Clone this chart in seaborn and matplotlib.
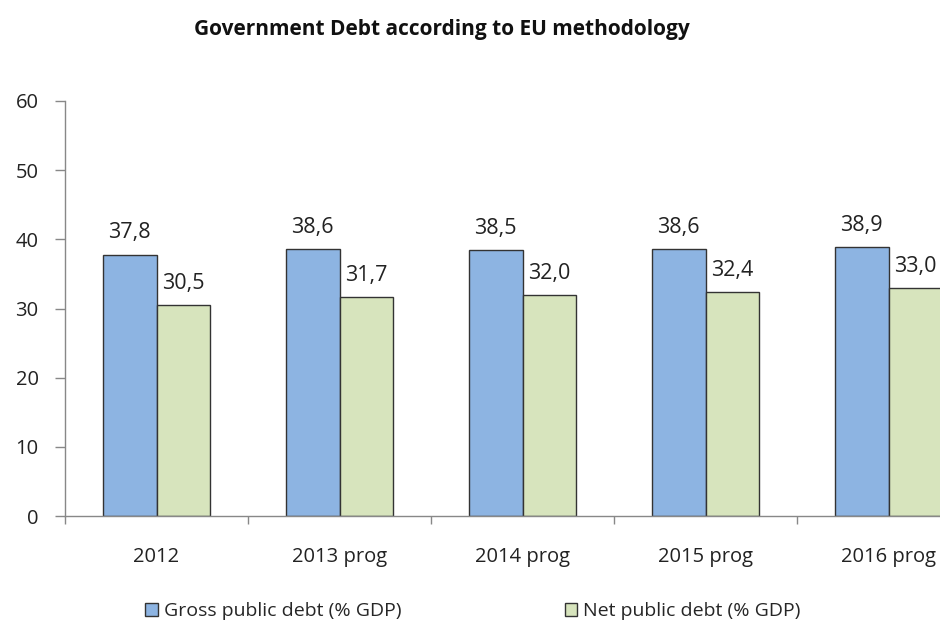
import numpy as np
import pandas as pd
import seaborn as sns
import matplotlib
matplotlib.use("Agg")
import matplotlib.pyplot as plt
from matplotlib.patches import Patch

sns.set_style("white")
plt.rcParams['font.family'] = ['Open Sans', 'DejaVu Sans']

# data
years = ["2012", "2013 prog", "2014 prog", "2015 prog", "2016 prog"]
gross = [37.8, 38.6, 38.5, 38.6, 38.9]
net = [30.5, 31.7, 32.0, 32.4, 33.0]
series = ["Gross public debt (% GDP)", "Net public debt (% GDP)"]
colors = ["#8DB4E2", "#D7E4BD"]

df = pd.DataFrame({
    "year": years * 2,
    "value": gross + net,
    "series": [series[0]] * len(years) + [series[1]] * len(years),
})

fig = plt.figure(figsize=(9.4, 6.26), dpi=100)
ax = fig.add_axes([65 / 940, 110 / 626, 915 / 940, 415 / 626])

sns.barplot(data=df, x="year", y="value", hue="series", order=years,
            hue_order=series, palette=colors, width=0.59, gap=0,
            edgecolor="#333333", linewidth=1, saturation=1, ax=ax,
            legend=False, errorbar=None)

for cont in ax.containers:
    ax.bar_label(cont, labels=[f"{v:.1f}".replace(".", ",") for v in cont.datavalues],
                 padding=8, fontsize=15.5, color="#222222")

ax.set_ylim(0, 60)
ax.set_yticks(np.arange(0, 61, 10))
ax.set_xlim(-0.5, len(years) - 0.5)
ax.set_xlabel("")
ax.set_ylabel("")

# tick marks at category boundaries, labels at centres
ax.set_xticks(np.arange(-0.5, len(years), 1), minor=True)
ax.tick_params(axis="x", which="major", length=0, pad=22, labelsize=14.5, colors="#222222")
ax.tick_params(axis="x", which="minor", length=6, width=1, color="#888888", direction="out", bottom=True)
ax.tick_params(axis="y", length=7, width=1, color="#888888", direction="out", left=True,
               labelsize=14.5, labelcolor="#222222", pad=12)

for s in ["top", "right"]:
    ax.spines[s].set_visible(False)
for s in ["left", "bottom"]:
    ax.spines[s].set_color("#888888")
    ax.spines[s].set_linewidth(1)

fig.text(442 / 940, 1 - 29 / 626, "Government Debt according to EU methodology",
         ha="center", va="center", fontsize=15, fontweight="bold", color="#111111")

handles = [Patch(facecolor=c, edgecolor="#333333", linewidth=1) for c in colors]
fig.legend(handles, series, loc="center", bbox_to_anchor=(473 / 940, 1 - 611 / 626),
           ncol=2, frameon=False, fontsize=14, columnspacing=8.4,
           handlelength=0.65, handleheight=0.65, handletextpad=0.3)

fig.savefig("out.png", dpi=100)
